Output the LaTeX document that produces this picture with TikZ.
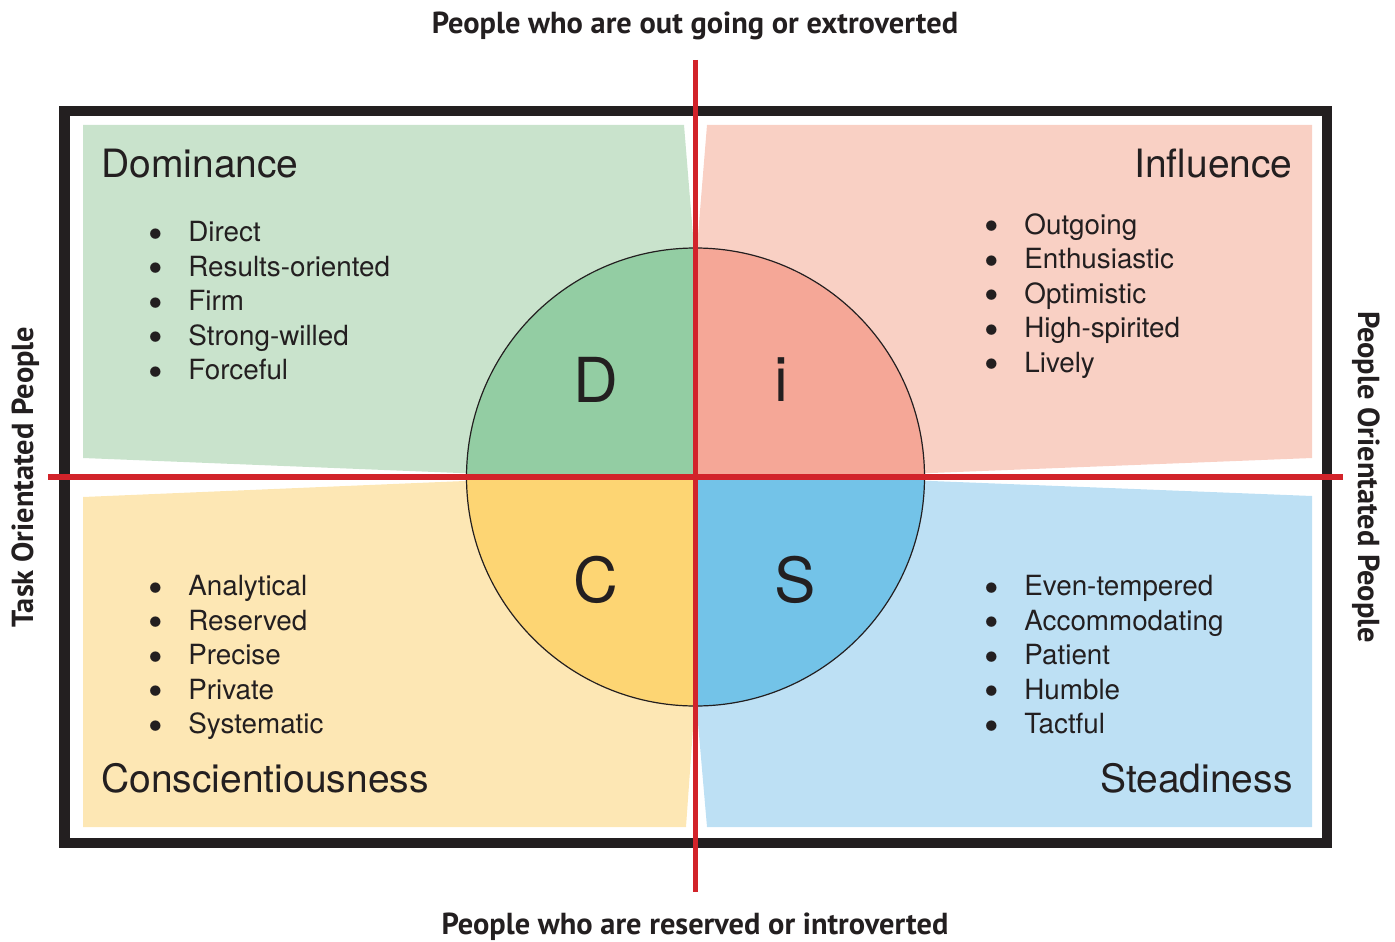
\documentclass[tikz,border=0pt]{standalone}
\usepackage{graphicx}
\usepackage{fontspec}
\newfontfamily\discfont{TeX Gyre Heros}
\newfontfamily\axisfont{PT Sans}
\definecolor{ink}{HTML}{231F20}
\definecolor{discred}{HTML}{D2232A}
\definecolor{lgreen}{HTML}{C9E3CC}
\definecolor{dgreen}{HTML}{93CDA3}
\definecolor{lpink}{HTML}{F9D0C4}
\definecolor{dpink}{HTML}{F5A797}
\definecolor{lyellow}{HTML}{FDE7B4}
\definecolor{dyellow}{HTML}{FDD573}
\definecolor{lblue}{HTML}{BDE0F4}
\definecolor{dblue}{HTML}{73C3E8}
\newcommand{\blt}{\makebox[20pt][l]{\smash{\raisebox{-0.23em}{\scalebox{1.5}{\textbullet}}}}}

\begin{document}
\begin{tikzpicture}[x=0.5pt, y=-0.5pt,
    every node/.style={inner sep=0pt, text=ink},
    head/.style={font=\discfont\fontsize{19.5}{23}\selectfont},
    items/.style={font=\discfont\fontsize{13.9}{17.25}\selectfont,
        align=left, anchor=north west},
    letter/.style={font=\discfont\fontsize{31}{36}\selectfont, anchor=base},
    axis/.style={font=\axisfont\bfseries\fontsize{15.2}{18}\selectfont},
    redline/.style={draw=discred, line width=2.6pt},
    frame/.style={draw=ink, line width=5.25pt}
    ]
\useasboundingbox (0,0) rectangle (1395,941);

\coordinate (ctr) at (695.5,477);

% the four coloured fields
\fill[lgreen] (83,125) -- (684,125) -- (695,260) -- (ctr) -- (560,477) -- (83,458) -- cycle;
\fill[lpink] (707,125) -- (1312,125) -- (1312,458) -- (830,477) -- (ctr) -- (696,260) -- cycle;
\fill[lyellow] (83,497) -- (560,477) -- (ctr) -- (695,700) -- (686,827) -- (83,827) -- cycle;
\fill[lblue] (ctr) -- (830,477) -- (1312,496) -- (1312,827) -- (707,827) -- (696,700) -- cycle;

% circle in quarters
\fill[dgreen] (ctr) -- ++(-229,0) arc[start angle=180, end angle=270, radius=229] -- cycle;
\fill[dpink] (ctr) -- ++(0,-229) arc[start angle=270, end angle=360, radius=229] -- cycle;
\fill[dblue] (ctr) -- ++(229,0) arc[start angle=0, end angle=90, radius=229] -- cycle;
\fill[dyellow] (ctr) -- ++(0,229) arc[start angle=90, end angle=180, radius=229] -- cycle;
\draw[ink, line width=0.6pt] (ctr) circle[radius=229];

% frame and axes
\draw[frame] (64.5,111) rectangle (1327,843);
\coordinate (vtop) at (695.5,60);
\coordinate (vbot) at (695.5,892);
\coordinate (hleft) at (48,477);
\coordinate (hright) at (1343,477);
\draw[redline] (vtop) -- (vbot);
\draw[redline] (hleft) -- (hright);

% letters
\node[letter] (dletter) at (596,402) {D};
\node[letter] (iletter) at (781,401) {i};
\node[letter] (cletter) at (596,602) {C};
\node[letter] (sletter) at (795.5,602) {S};

% titles
\node[head, anchor=base west] (dtitle) at (101,177) {Dominance};
\node[head, anchor=base east] (ititle) at (1293,177) {Influence};
\node[head, anchor=base west] (ctitle) at (101,792) {Conscientiousness};
\node[head, anchor=base east] (stitle) at (1293,792) {Steadiness};

% trait lists
\node[items] (dlist) at (148,221) {\blt Direct\\ \blt Results-oriented\\ \blt Firm\\
    \blt Strong-willed\\ \blt Forceful};
\node[items] (ilist) at (984,213) {\blt Outgoing\\ \blt Enthusiastic\\ \blt Optimistic\\
    \blt High-spirited\\ \blt Lively};
\node[items] (clist) at (148,575) {\blt Analytical\\ \blt Reserved\\ \blt Precise\\
    \blt Private\\ \blt Systematic};
\node[items] (slist) at (984,575) {\blt Even-tempered\\ \blt Accommodating\\ \blt Patient\\
    \blt Humble\\ \blt Tactful};

% axis labels
\node[axis, anchor=base] (outgoing) at (695,34) {People who are out going or extroverted};
\node[axis, anchor=base] (reserved) at (695,934) {People who are reserved or introverted};
\node[axis, anchor=base, rotate=90] (task) at (33,477) {Task Orientated People};
\node[axis, anchor=base, rotate=-90] (people) at (1358,477) {People Orientated People};
\end{tikzpicture}
\end{document}
